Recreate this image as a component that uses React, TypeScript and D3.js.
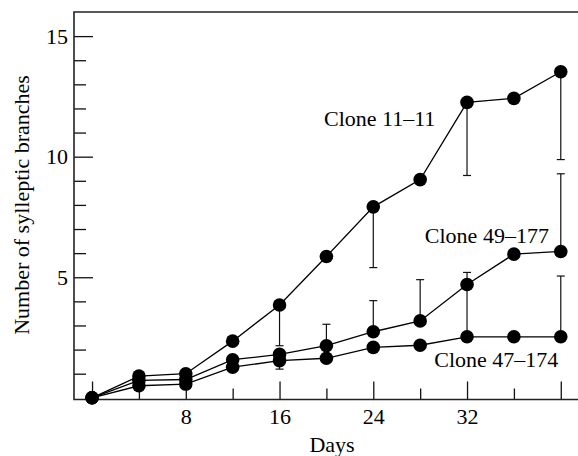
import React, { useEffect, useRef } from "react";
import * as d3 from "d3";

// sampling days
const days = [0, 4, 8, 12, 16, 20, 24, 28, 32, 36, 40];

// mean number of sylleptic branches per clone
const clone1111 = [0, 0.9, 1.0, 2.35, 3.85, 5.86, 7.92, 9.05, 12.25, 12.42, 13.52];
const clone49177 = [0, 0.72, 0.76, 1.58, 1.8, 2.16, 2.74, 3.19, 4.7, 5.96, 6.07];
const clone47174 = [0, 0.5, 0.57, 1.27, 1.54, 1.64, 2.09, 2.18, 2.53, 2.53, 2.53];

// one-sided error bars: [day, end value]
const err1111 = [[16, 2.16], [24, 5.4], [32, 9.22], [40, 9.88]];
const err49177 = [[20, 3.05], [24, 4.03], [28, 4.9], [32, 5.2], [40, 9.29]];
const err47174 = [[16, 1.19], [32, 4.6], [40, 5.05]];

// label anchors, in data units
const labelText = ["Clone 11\u201311", "Clone 49\u2013177", "Clone 47\u2013174"];
const labelDay = [29.3, 28.4, 29.2];
const labelValue = [11.27, 6.42, 1.27];
const labelAnchor = ["end", "start", "start"];

const xMajor = [0, 8, 16, 24, 32, 40];
const xMinor = [4, 12, 20, 28, 36];
const xLabels = [8, 16, 24, 32];
const yMajor = [5, 10, 15];
const yMinor = [1, 2, 3, 4, 6, 7, 8, 9, 11, 12, 13, 14];

const W = 578;
const H = 456;
const FONT = "'Liberation Serif', 'Times New Roman', serif";
const FS = "22px";

export default function App() {
  const svgRef = useRef<SVGSVGElement>(null);

  useEffect(() => {
    const svg = d3.select(svgRef.current);
    svg.selectAll("*").remove();

    const left = 74, right = 578, top = 12, bottom = 399.5;

    const x = d3.scaleLinear().domain([-1.54, 41.47]).range([left, right]);
    const y = d3.scaleLinear().domain([-0.07, 16]).range([bottom, top]);

    const series = [clone1111, clone49177, clone47174];
    const errs = [err1111, err49177, err47174];

    // ticks (inside)
    const yMinorAxis = d3.axisLeft(y).tickValues(yMinor).tickSize(-12).tickSizeOuter(0).tickFormat(() => "");
    const yMajorAxis = d3.axisLeft(y).tickValues(yMajor).tickSize(-19).tickSizeOuter(0).tickPadding(6);
    const xMinorAxis = d3.axisBottom(x).tickValues(xMinor).tickSize(-11).tickSizeOuter(0).tickFormat(() => "");
    const xMajorAxis = d3.axisBottom(x).tickValues(xMajor).tickSize(-18).tickSizeOuter(0).tickPadding(9)
      .tickFormat((d) => (xLabels.includes(d as number) ? String(d) : ""));

    const gy1 = svg.append("g").attr("transform", `translate(${left},0)`).call(yMinorAxis);
    const gy2 = svg.append("g").attr("transform", `translate(${left},0)`).call(yMajorAxis);
    const gx1 = svg.append("g").attr("transform", `translate(0,${bottom})`).call(xMinorAxis);
    const gx2 = svg.append("g").attr("transform", `translate(0,${bottom})`).call(xMajorAxis);
    [gy1, gy2, gx1, gx2].forEach((g) => {
      g.select(".domain").remove();
      g.selectAll("line").attr("stroke", "#111").attr("stroke-width", 1.3);
      g.selectAll("text").attr("fill", "#000").style("font-family", FONT).style("font-size", FS);
    });

    // frame: left, top, bottom
    svg.append("path")
      .attr("d", `M${right},${top}H${left}V${bottom}H${right}`)
      .attr("fill", "none").attr("stroke", "#222").attr("stroke-width", 1.6);

    // series lines
    const line = d3.line<number>().x((_, i) => x(days[i])).y((d) => y(d));
    series.forEach((s) => {
      svg.append("path").attr("d", line(s)).attr("fill", "none")
        .attr("stroke", "#000").attr("stroke-width", 1.3);
    });

    // error bars
    series.forEach((s, k) => {
      errs[k].forEach(([day, end]) => {
        const i = days.indexOf(day);
        const cx = x(day);
        svg.append("line").attr("x1", cx).attr("x2", cx)
          .attr("y1", y(s[i])).attr("y2", y(end))
          .attr("stroke", "#111").attr("stroke-width", 1.2);
        svg.append("line").attr("x1", cx - 4).attr("x2", cx + 4)
          .attr("y1", y(end)).attr("y2", y(end))
          .attr("stroke", "#111").attr("stroke-width", 1.2);
      });
    });

    // markers
    series.forEach((s) => {
      svg.append("g").selectAll("circle").data(s).join("circle")
        .attr("cx", (_, i) => x(days[i])).attr("cy", (d) => y(d))
        .attr("r", 6.8).attr("fill", "#000");
    });

    // series labels
    labelText.forEach((t, i) => {
      svg.append("text").attr("x", x(labelDay[i])).attr("y", y(labelValue[i]))
        .attr("text-anchor", labelAnchor[i]).style("font-family", FONT).style("font-size", FS)
        .text(t);
    });

    // axis titles
    svg.append("text").attr("x", 332).attr("y", 451.5).attr("text-anchor", "middle")
      .style("font-family", FONT).style("font-size", FS).text("Days");
    svg.append("text").attr("transform", "translate(29,205) rotate(-90)").attr("text-anchor", "middle")
      .style("font-family", FONT).style("font-size", FS).text("Number of sylleptic branches");
  }, []);

  return (
    <svg
      ref={svgRef}
      width={W}
      height={H}
      style={{ position: "absolute", left: 0, top: 0, background: "#fff" }}
    />
  );
}
